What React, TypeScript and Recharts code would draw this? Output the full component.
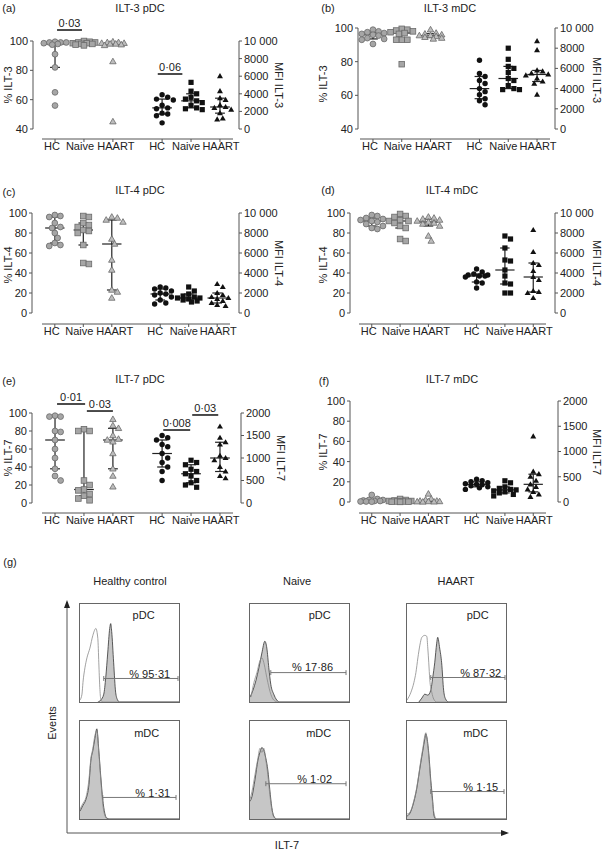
import React from 'react';
import {
  ScatterChart, Scatter, XAxis, YAxis, ReferenceLine, ComposedChart, Area, Line,
} from 'recharts';

const FONT = '"Liberation Sans", Arial, Helvetica, sans-serif';
const INK = '#222';
const AXIS = '#555';

// categories: first block = % positive (left axis), second block = MFI (right axis)
const groupNames = ['HC', 'Naive', 'HAART', 'HC', 'Naive', 'HAART'];
const groupPos = [1, 2, 3, 4.7, 5.7, 6.7];
const X_DOMAIN = [0.55, 7.15];
// labels sit a little off their ticks so the words don't collide
const labelShift = [-3, -4, 3, -5, -5, 1];

const pctTicks40 = [40, 60, 80, 100];
const pctTicks100 = [0, 20, 40, 60, 80, 100];
const mfiTicks10k = [0, 2000, 4000, 6000, 8000, 10000];
const mfiTicks2k = [0, 500, 1000, 1500, 2000];

// (a) ILT-3 pDC
const ilt3PdcPct = [
  [99.5, 99, 99, 99, 98.5, 98, 97.5, 91, 82, 65, 56],
  [100, 99.5, 99, 99, 98.5, 98.5, 98, 98, 97.5, 97],
  [99.5, 99, 99, 98.5, 98.5, 98, 98, 97.5, 97, 86, 45],
];
const ilt3PdcMfi = [
  [3900, 3600, 3400, 3300, 2700, 2400, 2300, 1800, 1700, 1500, 700],
  [5300, 4300, 4000, 3600, 3400, 3200, 3000, 2700, 2400, 2300, 2200],
  [6000, 4300, 3500, 3300, 2700, 2500, 2400, 2200, 1800, 1200, 1100],
];
const ilt3PdcSig = [
  { from: 1.07, to: 1.93, at: 107.5, text: '0·03' },
  { from: 4.55, to: 5.4, at: 77.5, text: '0·06' },
];

// (b) ILT-3 mDC
const ilt3MdcPct = [
  [99, 98, 97.5, 97, 96.5, 96, 95.5, 94, 93.5, 93, 90.5],
  [99.5, 99, 98.5, 98, 97.5, 97, 96.5, 93, 93, 93, 78.5],
  [99, 97, 96.5, 96, 95.5, 95.5, 95, 94.5, 94, 93.5],
];
const ilt3MdcMfi = [
  [6800, 5500, 5200, 4800, 4500, 4000, 3700, 3400, 3000, 2800, 2400],
  [8000, 6900, 6200, 6000, 5600, 5000, 4800, 4300, 4000, 3900, 3900],
  [8700, 7800, 5800, 5700, 5500, 5400, 5300, 5000, 4700, 4500, 3400],
];

// (c) ILT-4 pDC
const ilt4PdcPct = [
  [98, 97, 96, 90, 86, 85, 80, 75, 70, 68, 67],
  [97, 96, 90, 88, 86, 83, 82, 80, 68, 50, 49],
  [96, 95, 93, 91, 74, 69, 53, 43, 23, 21, 15],
];
const ilt4PdcMfi = [
  [2600, 2500, 2400, 2200, 2000, 1900, 1800, 1600, 1300, 1000, 900],
  [2600, 2200, 1900, 1700, 1600, 1500, 1500, 1400, 1300, 1200, 1100],
  [2900, 2600, 2000, 1800, 1600, 1500, 1400, 1200, 1000, 800, 700],
];

// (d) ILT-4 mDC
const ilt4MdcPct = [
  [98, 97, 95, 94, 93, 92, 91, 89, 87, 85, 84],
  [99, 97, 96, 93, 92, 92, 90, 87, 85, 74, 72],
  [96, 95, 94, 93, 92, 91, 90, 89, 87, 77, 72],
];
const ilt4MdcMfi = [
  [4400, 4100, 3900, 3800, 3800, 3700, 3700, 3600, 3100, 3000, 2500],
  [7700, 7400, 6500, 5300, 5200, 4300, 3700, 3000, 2900, 2000, 2000],
  [8300, 6100, 5000, 4800, 4200, 3600, 3300, 2200, 2100, 2000, 1500],
];

// (e) ILT-7 pDC
const ilt7PdcPct = [
  [97, 96, 96, 80, 79, 70, 60, 50, 38, 30, 25],
  [82, 80, 80, 25, 20, 15, 14, 10, 8, 5, 3],
  [93, 86, 83, 75, 71, 70, 68, 55, 38, 30, 18],
];
const ilt7PdcMfi = [
  [1500, 1450, 1400, 1300, 1250, 1100, 1000, 900, 800, 700, 500],
  [950, 900, 850, 750, 700, 650, 600, 500, 450, 400, 350],
  [1700, 1450, 1350, 1300, 1050, 1000, 950, 800, 700, 600, 550],
];
const ilt7PdcSig = [
  { from: 1.07, to: 2.04, at: 110, text: '0·01' },
  { from: 2.1, to: 3.0, at: 102.2, text: '0·03' },
  { from: 4.74, to: 5.67, at: 81.1, text: '0·008' },
  { from: 5.74, to: 6.64, at: 97.8, text: '0·03' },
];

// (f) ILT-7 mDC
const ilt7MdcPct = [
  [7, 3, 2, 2, 1.5, 1, 1, 0.5, 0.5, 0.3],
  [3, 2, 1.5, 1, 1, 0.5, 0.5, 0.3, 0.2, 0.1],
  [8, 3, 2, 1, 1, 0.5, 0.5, 0.3, 0.2, 0.1],
];
const ilt7MdcMfi = [
  [450, 420, 400, 380, 360, 350, 340, 320, 300, 280, 250],
  [420, 380, 300, 270, 250, 240, 220, 200, 180, 150, 120],
  [1300, 600, 550, 500, 420, 350, 300, 250, 200, 150, 100],
];

// (g) ILT-7 histograms: [x, events] in % of the plot box
const hcPdcStained = [[18, 0], [21, 2], [24, 8], [26, 25], [28, 50], [30, 75], [31, 80], [32, 72], [34, 40], [36, 10], [38, 2], [40, 0], [100, 0]];
const hcPdcIsotype = [[0, 2], [2, 8], [3, 20], [5, 35], [7, 45], [10, 55], [13, 68], [16, 75], [18, 65], [19, 40], [20, 15], [21, 3], [23, 0], [100, 0]];
const hcMdcStained = [[0, 8], [3, 14], [6, 20], [9, 35], [11, 60], [13, 70], [15, 82], [17, 92], [19, 70], [21, 43], [23, 20], [25, 6], [27, 1], [30, 0], [100, 0]];
const hcMdcIsotype = [[0, 10], [3, 16], [6, 22], [9, 40], [11, 62], [13, 72], [15, 85], [17, 90], [19, 68], [21, 40], [23, 15], [25, 4], [28, 0], [100, 0]];
const naivePdcStained = [[0, 5], [3, 12], [6, 22], [9, 35], [12, 50], [15, 62], [17, 55], [19, 35], [21, 18], [24, 8], [27, 2], [30, 0], [100, 0]];
const naivePdcIsotype = [[1, 5], [4, 20], [7, 30], [10, 42], [12, 45], [14, 40], [16, 30], [18, 20], [21, 8], [24, 2], [28, 0], [100, 0]];
const naiveMdcStained = [[0, 18], [2, 23], [5, 40], [8, 60], [10, 68], [12, 73], [14, 70], [16, 62], [18, 50], [20, 30], [22, 12], [24, 3], [27, 0], [100, 0]];
const naiveMdcIsotype = [[0, 20], [2, 28], [5, 45], [8, 62], [10, 72], [12, 68], [14, 72], [16, 60], [18, 45], [20, 25], [22, 10], [24, 2], [27, 0], [100, 0]];
const haartPdcStained = [[12, 0], [15, 4], [18, 8], [21, 7], [24, 12], [26, 25], [28, 40], [30, 60], [31, 66], [33, 55], [35, 40], [37, 12], [39, 3], [42, 0], [100, 0]];
const haartPdcIsotype = [[0, 2], [4, 10], [7, 20], [9, 30], [11, 45], [13, 58], [15, 66], [18, 68], [20, 67], [21, 55], [22, 40], [23, 23], [25, 10], [27, 3], [30, 0], [100, 0]];
const haartMdcStained = [[0, 3], [3, 6], [7, 18], [10, 32], [12, 45], [14, 58], [16, 70], [18, 82], [19, 87], [20, 84], [22, 67], [24, 40], [26, 18], [27, 5], [29, 0], [100, 0]];
const haartMdcIsotype = [[0, 5], [3, 7], [7, 19], [10, 33], [12, 46], [14, 60], [16, 72], [18, 85], [19, 88], [20, 82], [22, 64], [24, 36], [26, 15], [28, 3], [30, 0], [100, 0]];

const panels = [
  {
    letter: '(a)', title: 'ILT-3 pDC', marker: 'ILT-3', pct: ilt3PdcPct, mfi: ilt3PdcMfi,
    pctTicks: pctTicks40, mfiTicks: mfiTicks10k, sig: ilt3PdcSig,
    left: 0, top: 0, width: 300, yLeft: 33, yRight: 239, xStart: 42, xEnd: 233, yTop: 41, yBottom: 129, xAxisY: 139,
    letterAt: [9, 8], titleAt: [140, 8], pctLabelAt: [8, 85], mfiLabelAt: [278, 85],
  },
  {
    letter: '(b)', title: 'ILT-3 mDC', marker: 'ILT-3', pct: ilt3MdcPct, mfi: ilt3MdcMfi,
    pctTicks: pctTicks40, mfiTicks: mfiTicks10k, sig: [],
    left: 300, top: 0, width: 303, yLeft: 358, yRight: 555, xStart: 360, xEnd: 550, yTop: 28, yBottom: 129, xAxisY: 139,
    letterAt: [328, 8], titleAt: [450, 8], pctLabelAt: [323, 84], mfiLabelAt: [596, 80],
  },
  {
    letter: '(c)', title: 'ILT-4 pDC', marker: 'ILT-4', pct: ilt4PdcPct, mfi: ilt4PdcMfi,
    pctTicks: pctTicks100, mfiTicks: mfiTicks10k, sig: [],
    left: 0, top: 200, width: 300, yLeft: 32, yRight: 239, xStart: 42, xEnd: 230, yTop: 213, yBottom: 313, xAxisY: 324,
    letterAt: [9, 192], titleAt: [140, 190], pctLabelAt: [8, 265], mfiLabelAt: [278, 263],
  },
  {
    letter: '(d)', title: 'ILT-4 mDC', marker: 'ILT-4', pct: ilt4MdcPct, mfi: ilt4MdcMfi,
    pctTicks: pctTicks100, mfiTicks: mfiTicks10k, sig: [],
    left: 300, top: 200, width: 303, yLeft: 350, yRight: 555, xStart: 359, xEnd: 546, yTop: 213, yBottom: 313, xAxisY: 324,
    letterAt: [328, 190], titleAt: [452, 190], pctLabelAt: [323, 265], mfiLabelAt: [596, 263],
  },
  {
    letter: '(e)', title: 'ILT-7 pDC', marker: 'ILT-7', pct: ilt7PdcPct, mfi: ilt7PdcMfi,
    pctTicks: pctTicks100, mfiTicks: mfiTicks2k, sig: ilt7PdcSig,
    left: 0, top: 385, width: 300, yLeft: 32, yRight: 241, xStart: 42, xEnd: 233, yTop: 413, yBottom: 503, xAxisY: 513,
    letterAt: [9, 381], titleAt: [140, 379], pctLabelAt: [8, 458], mfiLabelAt: [280, 458],
  },
  {
    letter: '(f)', title: 'ILT-7 mDC', marker: 'ILT-7', pct: ilt7MdcPct, mfi: ilt7MdcMfi,
    pctTicks: pctTicks100, mfiTicks: mfiTicks2k, sig: [],
    left: 300, top: 385, width: 303, yLeft: 350, yRight: 558, xStart: 359, xEnd: 546, yTop: 401, yBottom: 502, xAxisY: 513,
    letterAt: [324, 381], titleAt: [452, 379], pctLabelAt: [323, 452], mfiLabelAt: [596, 452],
  },
];

const BOX_W = 101;
const BOX_H = 100;
const histBoxes = [
  { left: 79, top: 603, stained: hcPdcStained, isotype: hcPdcIsotype, cell: 'pDC', value: '% 95·31', gate: [24, 99, 24], valueAt: [69, 30], cellAt: [63, 89] },
  { left: 79, top: 720, stained: hcMdcStained, isotype: hcMdcIsotype, cell: 'mDC', value: '% 1·31', gate: [23, 97, 22], valueAt: [72, 28], cellAt: [66, 88] },
  { left: 249, top: 603, stained: naivePdcStained, isotype: naivePdcIsotype, cell: 'pDC', value: '% 17·86', gate: [21, 97, 30], valueAt: [62, 37], cellAt: [69, 89] },
  { left: 249, top: 720, stained: naiveMdcStained, isotype: naiveMdcIsotype, cell: 'mDC', value: '% 1·02', gate: [16, 97, 36], valueAt: [64, 42], cellAt: [68, 88] },
  { left: 406, top: 603, stained: haartPdcStained, isotype: haartPdcIsotype, cell: 'pDC', value: '% 87·32', gate: [24, 99, 25], valueAt: [73, 31], cellAt: [70, 89] },
  { left: 406, top: 720, stained: haartMdcStained, isotype: haartMdcIsotype, cell: 'mDC', value: '% 1·15', gate: [24, 98, 28], valueAt: [73, 34], cellAt: [68, 88] },
];
const arrowTips = [{ x: 0, y: 100, dir: 'up' }, { x: 100, y: 0, dir: 'right' }];

const SHAPES = ['circle', 'square', 'triangle'];
const tickStyle = { fontSize: 11, fill: INK, fontFamily: FONT };

function Txt({ x, y, children, size = 11, rotate = 0 }: any) {
  return (
    <div
      style={{
        position: 'absolute', left: x, top: y, transform: `translate(-50%, -50%) rotate(${rotate}deg)`,
        fontSize: size, fontFamily: FONT, color: INK, whiteSpace: 'nowrap', lineHeight: 1,
      }}
    >
      {children}
    </div>
  );
}

function GroupTick({ x, y, index }: any) {
  return (
    <text x={x + (labelShift[index] ?? 0)} y={y} dy="0.71em" textAnchor="middle" fontSize={11} fill={INK} fontFamily={FONT}>
      {groupNames[index]}
    </text>
  );
}

function Marker({ cx, cy, kind, dark }: any) {
  if (cx == null || cy == null) return null;
  const fill = dark ? '#111' : kind === 'triangle' ? '#bdbdbd' : '#a6a6a6';
  const stroke = dark ? 'none' : '#6a6a6a';
  if (kind === 'circle') {
    return <circle cx={cx} cy={cy} r={dark ? 2.7 : 2.9} fill={fill} stroke={stroke} strokeWidth={0.8} />;
  }
  if (kind === 'square') {
    const s = dark ? 5.2 : 5.6;
    return <rect x={cx - s / 2} y={cy - s / 2} width={s} height={s} fill={fill} stroke={stroke} strokeWidth={0.8} />;
  }
  const h = dark ? 5.2 : 5.6;
  const w = h * 1.15;
  return (
    <polygon
      points={`${cx},${cy - h * 0.6} ${cx - w / 2},${cy + h * 0.4} ${cx + w / 2},${cy + h * 0.4}`}
      fill={fill} stroke={stroke} strokeWidth={0.8}
    />
  );
}

// simple deterministic beeswarm: spread overlapping points sideways (pixel space)
function swarm(values: number[], pos: number, pxX: number, pxY: number) {
  const placed: { px: number; py: number }[] = [];
  return [...values].sort((a, b) => b - a).map((v) => {
    const py = v * pxY;
    let best = 0;
    let bestGap = -1;
    for (let k = 0; k < 9; k++) {
      const off = (k % 2 ? 1 : -1) * Math.ceil(k / 2) * 2.8;
      const gap = placed.length ? Math.min(...placed.map((q) => Math.hypot(q.px - off, q.py - py))) : 99;
      if (gap >= 5.6) { best = off; break; }
      if (gap > bestGap) { best = off; bestGap = gap; }
    }
    placed.push({ px: best, py });
    return { x: pos + best / pxX, y: v };
  });
}

function quart(values: number[], p: number) {
  const s = [...values].sort((a, b) => a - b);
  const h = (s.length + 1) * p;
  const i = Math.floor(h);
  if (i < 1) return s[0];
  if (i >= s.length) return s[s.length - 1];
  return s[i - 1] + (h - i) * (s[i] - s[i - 1]);
}

function DotPanel({ p }: any) {
  const H = p.xAxisY - p.top + 20;
  const padL = p.xStart - p.yLeft;
  const padR = p.yRight - p.xEnd;
  const pxX = (p.xEnd - p.xStart) / (X_DOMAIN[1] - X_DOMAIN[0]);
  const lDom = [p.pctTicks[0], p.pctTicks[p.pctTicks.length - 1]];
  const rDom = [p.mfiTicks[0], p.mfiTicks[p.mfiTicks.length - 1]];
  const span = p.yBottom - p.yTop;

  const series: any[] = [];
  for (let g = 0; g < 3; g++) {
    series.push({ axis: 'l', pos: groupPos[g], kind: SHAPES[g], dark: false, values: p.pct[g], pxY: span / (lDom[1] - lDom[0]) });
  }
  for (let g = 0; g < 3; g++) {
    series.push({ axis: 'r', pos: groupPos[g + 3], kind: SHAPES[g], dark: true, values: p.mfi[g], pxY: span / (rDom[1] - rDom[0]) });
  }

  const yCommon: any = {
    type: 'number', dataKey: 'y', tickSize: 3, tickMargin: 2, interval: 0, tick: tickStyle,
    tickLine: { stroke: AXIS }, axisLine: { stroke: AXIS, strokeDasharray: `${span} 2000` },
    padding: { top: 0, bottom: p.xAxisY - p.yBottom },
  };

  return (
    <>
      <div style={{ position: 'absolute', left: p.left, top: p.top }}>
        <ScatterChart width={p.width} height={H} margin={{ top: p.yTop - p.top, right: 0, bottom: 0, left: 0 }}>
          <XAxis
            type="number" dataKey="x" domain={X_DOMAIN} ticks={groupPos} interval={0}
            tick={<GroupTick />}
            padding={{ left: padL, right: padR }} height={20} tickSize={3} tickMargin={0}
            tickLine={{ stroke: AXIS }}
            axisLine={{ stroke: AXIS, strokeDasharray: `0 ${padL} ${p.xEnd - p.xStart} 2000` }}
          />
          <YAxis yAxisId="l" {...yCommon} domain={lDom} ticks={p.pctTicks} width={p.yLeft - p.left} />
          <YAxis
            yAxisId="r" orientation="right" {...yCommon} domain={rDom} ticks={p.mfiTicks}
            width={p.left + p.width - p.yRight}
            tickFormatter={(v: number) => (v >= 10000 ? '10 000' : String(v))}
          />
          {series.map((s, i) => (
            <Scatter
              key={`pts-${i}`} yAxisId={s.axis} data={swarm(s.values, s.pos, pxX, s.pxY)}
              shape={(props: any) => <Marker {...props} kind={s.kind} dark={s.dark} />}
              isAnimationActive={false}
            />
          ))}
          {series.map((s, i) => {
            const med = quart(s.values, 0.5);
            const q1 = quart(s.values, 0.25);
            const q3 = quart(s.values, 0.75);
            const seg = (x0: number, y0: number, x1: number, y1: number, k: string) => (
              <ReferenceLine
                key={`sum-${i}-${k}`} yAxisId={s.axis} segment={[{ x: x0, y: y0 }, { x: x1, y: y1 }]}
                stroke={INK} strokeWidth={1.2} ifOverflow="visible"
              />
            );
            return [
              seg(s.pos - 0.34, med, s.pos + 0.34, med, 'm'),
              seg(s.pos, q1, s.pos, q3, 'v'),
              seg(s.pos - 0.17, q1, s.pos + 0.17, q1, 'lo'),
              seg(s.pos - 0.17, q3, s.pos + 0.17, q3, 'hi'),
            ];
          })}
          {p.sig.map((s: any, i: number) => (
            <ReferenceLine
              key={`sig-${i}`} yAxisId="l" segment={[{ x: s.from, y: s.at }, { x: s.to, y: s.at }]}
              stroke="#111" strokeWidth={1.5} ifOverflow="visible"
              label={{ value: s.text, position: 'top', offset: 3, fontSize: 11, fill: INK, fontFamily: FONT }}
            />
          ))}
        </ScatterChart>
      </div>
      <Txt x={p.letterAt[0]} y={p.letterAt[1]}>{p.letter}</Txt>
      <Txt x={p.titleAt[0]} y={p.titleAt[1]}>{p.title}</Txt>
      <Txt x={p.pctLabelAt[0]} y={p.pctLabelAt[1]} rotate={-90}>{`% ${p.marker}`}</Txt>
      <Txt x={p.mfiLabelAt[0]} y={p.mfiLabelAt[1]} rotate={90}>{`MFI ${p.marker}`}</Txt>
    </>
  );
}

function HistBox({ b }: any) {
  const stained = b.stained.map(([x, y]: number[]) => ({ x, y }));
  const isotype = b.isotype.map(([x, y]: number[]) => ({ x, y }));
  const [g0, g1, gy] = b.gate;
  const gateLine = (x0: number, y0: number, x1: number, y1: number, k: string) => (
    <ReferenceLine key={k} segment={[{ x: x0, y: y0 }, { x: x1, y: y1 }]} stroke="#777" strokeWidth={1} ifOverflow="visible" />
  );
  return (
    <div
      style={{
        position: 'absolute', left: b.left, top: b.top, width: BOX_W, height: BOX_H,
        border: '1px solid #666', boxSizing: 'border-box',
      }}
    >
      <ComposedChart width={BOX_W - 2} height={BOX_H - 2} data={stained} margin={{ top: 0, right: 0, bottom: 0, left: 0 }}>
        <XAxis type="number" dataKey="x" domain={[0, 100]} hide />
        <YAxis type="number" domain={[0, 100]} hide />
        <Area type="monotone" dataKey="y" fill="#c6c6c6" fillOpacity={1} stroke="#333" strokeWidth={0.8} isAnimationActive={false} />
        <Line type="monotone" data={isotype} dataKey="y" stroke="#8a8a8a" strokeWidth={0.8} dot={false} isAnimationActive={false} />
        {gateLine(g0, gy, g1, gy, 'g')}
        {gateLine(g0, gy - 2.5, g0, gy + 2.5, 'gl')}
        {gateLine(g1, gy - 2.5, g1, gy + 2.5, 'gr')}
      </ComposedChart>
      <Txt x={(b.valueAt[0] / 100) * BOX_W} y={((100 - b.valueAt[1]) / 100) * BOX_H}>{b.value}</Txt>
      <Txt x={(b.cellAt[0] / 100) * BOX_W} y={((100 - b.cellAt[1]) / 100) * BOX_H}>{b.cell}</Txt>
    </div>
  );
}

function ArrowHead({ cx, cy, payload }: any) {
  if (cx == null || cy == null) return null;
  const pts = payload.dir === 'up'
    ? `${cx},${cy - 2} ${cx - 3},${cy + 6} ${cx + 3},${cy + 6}`
    : `${cx + 2},${cy} ${cx - 6},${cy - 3} ${cx - 6},${cy + 3}`;
  return <polygon points={pts} fill="#222" />;
}

function FlowPanel() {
  return (
    <>
      <div style={{ position: 'absolute', left: 40, top: 590 }}>
        <ComposedChart width={480} height={260} margin={{ top: 12, right: 13, bottom: 0, left: 0 }}>
          <XAxis type="number" dataKey="x" domain={[0, 100]} tick={false} tickLine={false} axisLine={{ stroke: AXIS }} height={17} />
          <YAxis type="number" dataKey="y" domain={[0, 100]} tick={false} tickLine={false} axisLine={{ stroke: AXIS }} width={27} />
          <Scatter data={arrowTips} shape={ArrowHead} isAnimationActive={false} />
        </ComposedChart>
      </div>
      {histBoxes.map((b, i) => <HistBox key={i} b={b} />)}
      <Txt x={10} y={562}>(g)</Txt>
      <Txt x={130} y={581}>Healthy control</Txt>
      <Txt x={297} y={581}>Naive</Txt>
      <Txt x={456} y={581}>HAART</Txt>
      <Txt x={52} y={723} rotate={-90}>Events</Txt>
      <Txt x={287} y={845}>ILT-7</Txt>
    </>
  );
}

export default function App() {
  return (
    <div
      style={{
        position: 'absolute', left: 0, top: 0, width: 603, height: 850,
        background: '#fff', fontFamily: FONT, overflow: 'hidden',
      }}
    >
      {panels.map((p) => <DotPanel key={p.letter} p={p} />)}
      <FlowPanel />
    </div>
  );
}
